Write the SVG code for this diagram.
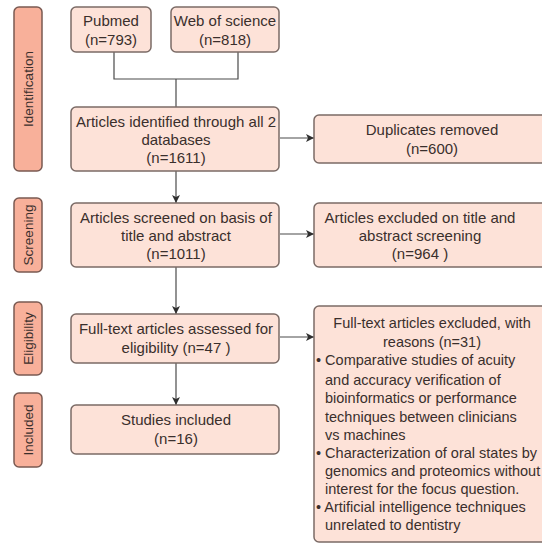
<svg xmlns="http://www.w3.org/2000/svg" width="542" height="544" viewBox="0 0 542 544">
<style>
.box{fill:#fde2d8;stroke:#7b6b66;stroke-width:1.5}
.side{fill:#f8b09a;stroke:#7a5a52;stroke-width:1.5}
text{font-family:"Liberation Sans",Arial,sans-serif;font-size:15px;fill:#3a2f2c}
.s{font-size:13.5px}
.r{font-size:14.5px}
.c{text-anchor:middle}
.con{fill:none;stroke:#4a4a4a;stroke-width:1.2}
</style>
<defs>
<marker id="ah" viewBox="0 0 10 10" refX="10" refY="5" markerWidth="8" markerHeight="8" markerUnits="userSpaceOnUse" orient="auto">
<path d="M0,0 L10,5 L0,10 L2.5,5 z" fill="#2e2e2e"/>
</marker>
</defs>
<rect width="542" height="544" fill="#ffffff"/>
<g id="label-identification"><rect class="side" x="14" y="7" width="28" height="164" rx="5"/><text class="c s" transform="translate(32.5,89) rotate(-90)">Identification</text></g>
<g id="label-screening"><rect class="side" x="14" y="198" width="28" height="74" rx="5"/><text class="c s" transform="translate(32.5,235) rotate(-90)">Screening</text></g>
<g id="label-eligibility"><rect class="side" x="14" y="302" width="28" height="73" rx="5"/><text class="c s" transform="translate(32.5,338.5) rotate(-90)">Eligibility</text></g>
<g id="label-included"><rect class="side" x="14" y="393" width="28" height="74" rx="5"/><text class="c s" transform="translate(32.5,430) rotate(-90)">Included</text></g>
<g id="connectors">
<path class="con" d="M114,52 V79 H238 V52"/>
<path class="con" d="M176,79 V107"/>
<path class="con" d="M176,171 V203" marker-end="url(#ah)"/>
<path class="con" d="M280,138 H314" marker-end="url(#ah)"/>
<path class="con" d="M176,267 V314" marker-end="url(#ah)"/>
<path class="con" d="M280,234 H314" marker-end="url(#ah)"/>
<path class="con" d="M176,363 V405" marker-end="url(#ah)"/>
<path class="con" d="M280,337 H314" marker-end="url(#ah)"/>
</g>
<g id="pubmed"><rect class="box" x="71" y="7" width="80" height="45" rx="5"/><text class="c" x="111" y="26">Pubmed</text><text class="c" x="111" y="45">(n=793)</text></g>
<g id="wos"><rect class="box" x="171" y="7" width="108" height="45" rx="5"/><text class="c" x="225" y="26">Web of science</text><text class="c" x="225" y="45">(n=818)</text></g>
<g id="identified"><rect class="box" x="71" y="107" width="208" height="64" rx="5"/><text class="c" x="176" y="127">Articles identified through all 2</text><text class="c" x="176" y="145">databases</text><text class="c" x="176" y="163">(n=1611)</text></g>
<g id="duplicates"><rect class="box" x="314" y="115" width="236" height="48" rx="5"/><text class="c" x="432" y="135">Duplicates removed</text><text class="c" x="432" y="154">(n=600)</text></g>
<g id="screened"><rect class="box" x="71" y="203" width="208" height="64" rx="5"/><text class="c" x="176" y="223">Articles screened on basis of</text><text class="c" x="176" y="241">title and abstract</text><text class="c" x="176" y="259">(n=1011)</text></g>
<g id="excluded-screen"><rect class="box" x="314" y="203" width="236" height="64" rx="5"/><text class="c" x="420" y="223">Articles excluded on title and</text><text class="c" x="420" y="241">abstract screening</text><text class="c" x="420" y="259">(n=964 )</text></g>
<g id="fulltext"><rect class="box" x="71" y="314" width="208" height="49" rx="5"/><text class="c" x="176" y="334">Full-text articles assessed for</text><text class="c" x="176" y="353">eligibility (n=47 )</text></g>
<g id="excluded-full"><rect class="box" x="314" y="306" width="236" height="236" rx="5"/>
<text class="c r" x="432" y="328">Full-text articles excluded, with</text>
<text class="c r" x="432" y="347">reasons (n=31)</text>
<text class="r" x="316" y="365">• Comparative studies of acuity</text>
<text class="r" x="325" y="385">and accuracy verification of</text>
<text class="r" x="325" y="403">bioinformatics or performance</text>
<text class="r" x="325" y="422">techniques between clinicians</text>
<text class="r" x="325" y="440">vs machines</text>
<text class="r" x="316" y="458">• Characterization of oral states by</text>
<text class="r" x="325" y="476">genomics and proteomics without</text>
<text class="r" x="325" y="494">interest for the focus question.</text>
<text class="r" x="316" y="512">• Artificial intelligence techniques</text>
<text class="r" x="325" y="530">unrelated to dentistry</text>
</g>
<g id="included"><rect class="box" x="71" y="405" width="208" height="49" rx="5"/><text class="c" x="176" y="425">Studies included</text><text class="c" x="176" y="444">(n=16)</text></g>
</svg>
